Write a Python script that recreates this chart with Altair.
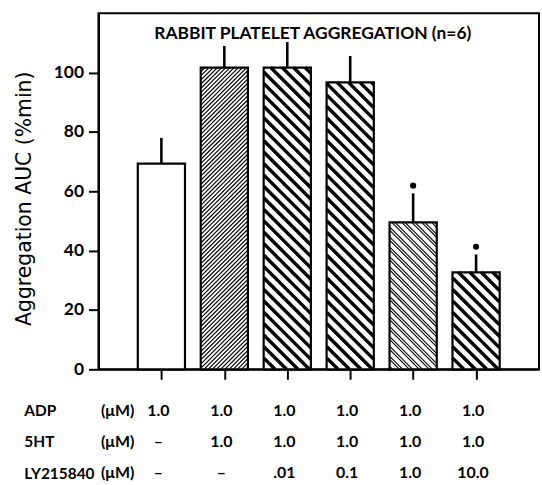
import altair as alt
import pandas as pd
import numpy as np

# ---------------- data ----------------
bar_idx = [1, 2, 3, 4, 5, 6]
means = [69.3, 101.7, 101.7, 96.7, 49.5, 32.7]
sems = [8.7, 7.3, 8.6, 8.9, 9.8, 6.0]
significant = [False, False, False, False, True, True]
patterns = ["none", "fine_up", "bold_down", "bold_down", "double_down", "bold_down"]

row_names = ["ADP", "5HT", "LY215840"]
adp = ["1.0", "1.0", "1.0", "1.0", "1.0", "1.0"]
sht = ["–", "1.0", "1.0", "1.0", "1.0", "1.0"]
ly = ["–", "–", ".01", "0.1", "1.0", "10.0"]
unit_label = "(μM)"

title_text = "RABBIT PLATELET AGGREGATION (n=6)"
y_title = "Aggregation AUC (%min)"

# ---------------- layout constants ----------------
W, H = 443, 358
XMAX, YMAX = 7, 120
HALF = 0.375
FONT = "Lato"

sx = W / XMAX
sy = H / YMAX

# hatch pattern styles: direction, period(px), line offsets(px), stroke width
pattern_style = {
    "fine_up": ("/", 4.2, [0.0], 1.2),
    "bold_down": ("\\", 11.5, [0.0], 3.4),
    "double_down": ("\\", 10.0, [0.0, 3.2], 1.1),
}

segs = []
for i, v, pat in zip(bar_idx, means, patterns):
    if pat not in pattern_style:
        continue
    d, p, offs, w = pattern_style[pat]
    L, R = (i - HALF) * sx, (i + HALF) * sx
    T, B = (YMAX - v) * sy, YMAX * sy
    if d == "\\":
        c_hi = B - L
        c_lo = T - R
        k = 0
        while True:
            base = c_hi - k * p
            if base + max(offs) < c_lo:
                break
            for o in offs:
                c = base - o
                lo, hi = max(L, T - c), min(R, B - c)
                if hi - lo > 0.6:
                    segs.append(dict(x=lo / sx, y=YMAX - (lo + c) / sy,
                                     x2=hi / sx, y2=YMAX - (hi + c) / sy, w=w))
            k += 1
    else:
        c_lo = T + L
        c_hi = B + R
        k = 0
        while True:
            base = c_lo + k * p
            if base - max(offs) > c_hi:
                break
            for o in offs:
                c = base + o
                lo, hi = max(L, c - B), min(R, c - T)
                if hi - lo > 0.6:
                    segs.append(dict(x=lo / sx, y=YMAX - (c - lo) / sy,
                                     x2=hi / sx, y2=YMAX - (c - hi) / sy, w=w))
            k += 1

bars_df = pd.DataFrame({"idx": bar_idx, "mean": means, "sem": sems, "sig": significant})
hatch_df = pd.DataFrame(segs)

xscale = alt.Scale(domain=[0, XMAX], nice=False, zero=False)
yscale = alt.Scale(domain=[0, YMAX], nice=False)

xaxis = alt.Axis(values=bar_idx, labels=False, title=None, grid=False, tickSize=10,
                 tickWidth=2, domainWidth=2, tickColor="black", domainColor="black")
yaxis = alt.Axis(values=[0, 20, 40, 60, 80, 100], title=y_title, grid=False, tickSize=10,
                 tickWidth=2, domainWidth=2, tickColor="black", domainColor="black",
                 labelFont=FONT, labelFontSize=17.5, labelFontWeight="bold", labelColor="black",
                 labelPadding=5, titleFont="DejaVu Sans", titleFontSize=20.5,
                 titleFontWeight="normal", titleColor="black", titlePadding=19,
                 titleY=186)

base = alt.Chart(bars_df).transform_calculate(
    x0=f"datum.idx - {HALF}", x1=f"datum.idx + {HALF}", top="datum.mean + datum.sem",
    dot="datum.mean + datum.sem + 2.6")

fill_bars = base.mark_bar(fill="white", strokeWidth=0).encode(
    x=alt.X("x0:Q", scale=xscale, axis=xaxis), x2="x1:Q",
    y=alt.Y("mean:Q", scale=yscale, axis=yaxis), y2=alt.datum(0))

hatch = alt.Chart(hatch_df).mark_rule(color="black", strokeCap="butt").encode(
    x=alt.X("x:Q", scale=xscale), x2="x2:Q",
    y=alt.Y("y:Q", scale=yscale), y2="y2:Q",
    strokeWidth=alt.StrokeWidth("w:Q", scale=None))

outline = base.mark_bar(fill="transparent", stroke="black", strokeWidth=2.2).encode(
    x=alt.X("x0:Q", scale=xscale), x2="x1:Q",
    y=alt.Y("mean:Q", scale=yscale), y2=alt.datum(0))

err = base.mark_rule(color="black", strokeWidth=2.6).encode(
    x=alt.X("idx:Q", scale=xscale), y=alt.Y("mean:Q", scale=yscale), y2="top:Q")

dots = base.transform_filter("datum.sig").mark_point(
    filled=True, color="black", size=38, opacity=1, shape="circle").encode(
    x=alt.X("idx:Q", scale=xscale), y=alt.Y("dot:Q", scale=yscale))

main = alt.layer(fill_bars, hatch, outline, err, dots).properties(
    width=W, height=H,
    view=alt.ViewBackground(stroke="black", strokeWidth=2),
    title=alt.TitleParams(title_text, offset=-29, fontSize=17.5, font=FONT,
                          fontWeight="bold", color="black", anchor="middle", dx=-6))

# ---------------- table ----------------
trows = []
for r, vals in zip(row_names, [adp, sht, ly]):
    for i, t in zip(bar_idx, vals):
        trows.append(dict(row=r, idx=i, txt=t))
table_df = pd.DataFrame(trows)
unit_df = pd.DataFrame({"row": row_names, "txt": [unit_label] * 3})

tyscale = alt.Scale(type="point", domain=row_names, padding=0.3)
tyaxis = alt.Axis(title=None, domain=False, ticks=False, labelAlign="left", labelPadding=75,
                  labelFont=FONT, labelFontSize=15.5, labelFontWeight="bold", labelColor="black")

vals_txt = alt.Chart(table_df).mark_text(font=FONT, fontSize=16, fontWeight="bold",
                                         color="black", dx=-3).encode(
    x=alt.X("idx:Q", scale=xscale, axis=None),
    y=alt.Y("row:N", scale=tyscale, axis=tyaxis, sort=row_names),
    text="txt:N")
unit_txt = alt.Chart(unit_df).mark_text(font=FONT, fontSize=16, fontWeight="bold",
                                        color="black", align="left").encode(
    x=alt.datum(0.04, scale=xscale),
    y=alt.Y("row:N", scale=tyscale, sort=row_names),
    text="txt:N")

table = alt.layer(vals_txt, unit_txt).properties(
    width=W, height=82, view=alt.ViewBackground(stroke="transparent"))

chart = alt.vconcat(main, table, spacing=19).properties(
    padding={"left": 13, "right": 2, "top": 11, "bottom": 2}
).configure_view(stroke="transparent")

chart.save("out.html", embed_options={"renderer": "svg", "actions": False})
